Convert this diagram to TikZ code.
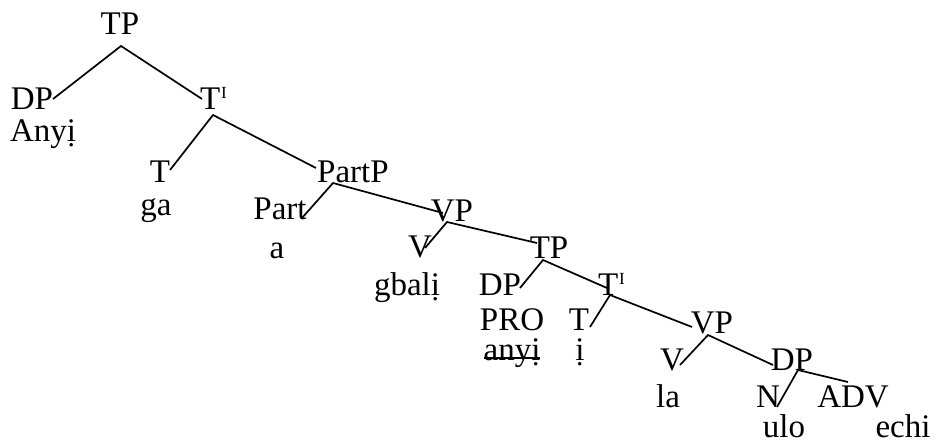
\documentclass[tikz,border=0pt]{standalone}
\usepackage{fontspec}
\setmainfont{Liberation Serif}
\newcommand{\barI}{\hspace{1pt}\raisebox{11pt}{\fontsize{17}{17}\selectfont I}}
\begin{document}
\begin{tikzpicture}[x=1pt,y=-1pt,
  lbl/.style={inner sep=0pt,outer sep=0pt,anchor=base,font=\fontsize{33}{33}\selectfont},
  lblw/.style={lbl,anchor=base west},
  br/.style={line width=1.7pt}]
\useasboundingbox[fill=white] (0,0) rectangle (941,446);
% nodes
\node[lbl] (tp1) at (120,35) {TP};
\node[lbl] (dp1) at (32,110) {DP};
\node[lbl] (anyi1) at (43,142) {Anyị};
\node[lblw] (tbar1) at (200,110) {T\barI};
\node[lbl] (t1) at (160,183) {T};
\node[lbl] (ga) at (156,216) {ga};
\node[lbl] (partp) at (353,183) {PartP};
\node[lbl] (part) at (280,220) {Part};
\node[lbl] (a) at (277,258) {a};
\node[lbl] (vp1) at (452,222) {VP};
\node[lbl] (v1) at (420,257) {V};
\node[lbl] (gbali) at (407,295) {gbalị};
\node[lbl] (tp2) at (549,258) {TP};
\node[lbl] (dp2) at (500,295) {DP};
\node[lblw] (tbar2) at (598,295) {T\barI};
\node[lbl] (pro) at (512,330) {PRO};
\node[lbl] (t2) at (579,330) {T};
\node[lbl] (anyi2) at (512,360) {anyị};
\node[lbl] (i2) at (580,360) {ị};
\node[lbl] (vp2) at (712,333) {VP};
\node[lbl] (v2) at (672,370) {V};
\node[lbl] (dp3) at (792,370) {DP};
\node[lbl] (la) at (668,407) {la};
\node[lbl] (n) at (768,407) {N};
\node[lbl] (adv) at (853,407) {ADV};
\node[lbl] (ulo) at (784,437) {ulo};
\node[lbl] (echi) at (903,437) {echi};
% strike-through
\draw[line width=1.2pt] ([yshift=2pt]anyi2.base west) -- ([yshift=2pt]anyi2.base east);
% branch points
\coordinate (tp1b) at (121,46);
\coordinate (dp1e) at (53,99);
\coordinate (tbar1t) at (202,99);
\coordinate (tbar1b) at (213,115);
\coordinate (t1e) at (170,170);
\coordinate (partpt) at (316,168);
\coordinate (partpb) at (333,183);
\coordinate (parte) at (302,218);
\coordinate (vp1t) at (443,213);
\coordinate (vp1b) at (447,222);
\coordinate (v1e) at (425,248);
\coordinate (tp2t) at (537,243);
\coordinate (tp2b) at (543,260);
\coordinate (dp2e) at (520,288);
\coordinate (tbar2t) at (607,288);
\coordinate (tbar2b) at (610,295);
\coordinate (t2e) at (590,327);
\coordinate (vp2t) at (692,327);
\coordinate (vp2b) at (708,335);
\coordinate (v2e) at (680,365);
\coordinate (dp3t) at (773,365);
\coordinate (dp3b) at (798,370);
\coordinate (ne) at (777,407);
\coordinate (adve) at (848,382);
% branches
\draw[br] (dp1e) -- (tp1b) -- (tbar1t);
\draw[br] (t1e) -- (tbar1b) -- (partpt);
\draw[br] (parte) -- (partpb) -- (vp1t);
\draw[br] (v1e) -- (vp1b) -- (tp2t);
\draw[br] (dp2e) -- (tp2b) -- (tbar2t);
\draw[br] (t2e) -- (tbar2b) -- (vp2t);
\draw[br] (v2e) -- (vp2b) -- (dp3t);
\draw[br] (ne) -- (dp3b) -- (adve);
\end{tikzpicture}
\end{document}
